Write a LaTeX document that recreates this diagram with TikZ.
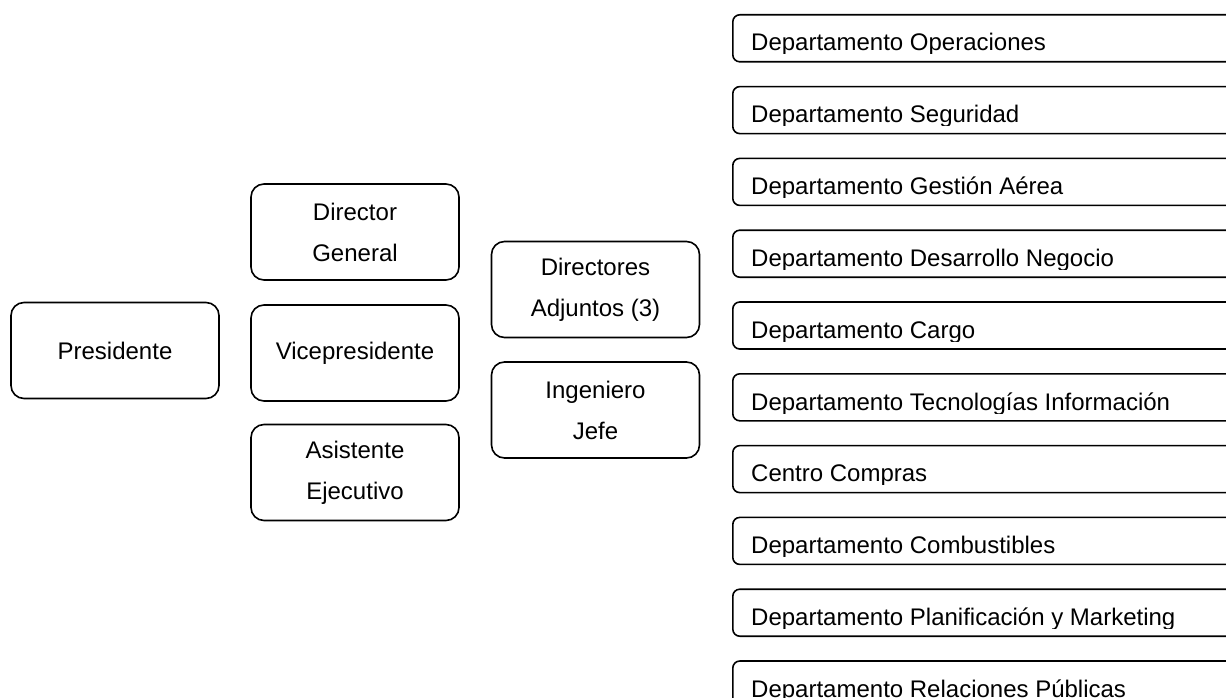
\documentclass[tikz,border=0pt]{standalone}
\usepackage{fontspec}
\setmainfont{Liberation Sans}
\begin{document}
\begin{tikzpicture}[x=1pt,y=-1pt,
  box/.style={draw, line width=1.6pt, rounded corners=13pt,
    minimum width=208pt, minimum height=96pt, inner sep=0pt,
    align=center, font=\fontsize{24}{41}\selectfont},
  dept/.style={draw, line width=1.6pt, rounded corners=7pt,
    anchor=north west, minimum width=520pt, minimum height=47pt, inner sep=0pt},
  depttext/.style={anchor=base west, inner sep=0pt,
    font=\fontsize{24}{28}\selectfont}]
\useasboundingbox (0,0) rectangle (1226,698);
\clip (0,0) rectangle (1226,698);

% executive boxes
\node[box] (pres) at (115,350.5) {Presidente};
\node[box] (dg)   at (355,232)   {Director\\General};
\node[box] (vp)   at (355,353)   {Vicepresidente};
\node[box] (ae)   at (355,472.5) {Asistente\\Ejecutivo};
\node[box] (da)   at (595.5,289.5) {Directores\\Adjuntos (3)};
\node[box] (ij)   at (595.5,410)   {Ingeniero\\Jefe};

% department column; the labels are cut off just above each box's lower edge
\foreach \name [count=\i from 0] in {Departamento Operaciones,
    Departamento Seguridad, Departamento Gestión Aérea,
    Departamento Desarrollo Negocio, Departamento Cargo,
    Departamento Tecnologías Información, Centro Compras,
    Departamento Combustibles, Departamento Planificación y Marketing,
    Departamento Relaciones Públicas} {
  \pgfmathsetmacro\boxtop{14+71.8*\i}
  \node[dept] (d\i) at (732,\boxtop) {};
  \begin{scope}
    \clip (732,\boxtop) rectangle (1226,{\boxtop+40});
    \node[depttext] (t\i) at (751,{\boxtop+37}) {\name};
  \end{scope}
}
\end{tikzpicture}
\end{document}
